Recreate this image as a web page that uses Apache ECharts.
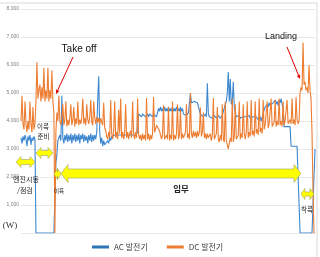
<!DOCTYPE html>
<html>
<head>
<meta charset="utf-8">
<script src="https://cdn.jsdelivr.net/npm/echarts/dist/echarts.min.js"></script>
<style>
  html, body { margin: 0; padding: 0; background: #fff; }
  #chart { width: 320px; height: 257px; }
</style>
</head>
<body>
<div id="chart"></div>
<script>
// 시간축은 한 칸 = 한 샘플, 구간별로 나눠서 적음
// AC 발전기 (W)
const acEngine = [3400,3200,3450,3300,3500,3350,3100,3450,3300,3500,3150,3400,3300,3450,3350];
const acPrep = [0,0,0,0,0,0,0,0,0,0,0,0,0,0,0,0,0,0,0];
const acTakeoff = [0,2500,2800,3300];
const acClimb = [3400,3500,3300,4900,3400,3200,3500,3300,3550,3250,
  3500,3300,3550,3200,3500,3300,3550,3250,3500,3300,
  3550,3200,3500,3350,3550,3250,3500,3300,3450,3200,
  3500,3300,3550,3250,3500,3300,3500,3350,3600,4800,
  5600,3600,3200,3400,3100,3300,3150];
const acMissionA = [3200,3100,3300,3200,3400,3300,3450,3500,
  3450,3500,3550,3450,3500,3550,3450,3500,3550,3450,3500,3550,3450,
  3500,3550,3450,3500,3550,3450,3500,3550,3450,3500,3550,3600,
  4250,4200,4250,4150,4250,4200,4250,4150,4200,4250,
  4150,4250,4200,4250,4150,4250,4200,4250,4150,4200];
const acMissionB = [4450,4350,4500,4350,4450,4350,4500,4350,4450,4350,
  4500,4350,4450,4350,4500,4350,4450,4350,4500,4350,4450,4350,4500,4350,4450,
  4250,4300,4250,4200,4250,4300,4250,
  5000,4650,4700,4650,4700,4650,4700,4650,4700,4600,
  4250,4200,4250,4150,4200,4250,4150,5350,4250,
  4150,4200,4150,4100,4150,4200,4150,4100,4150,4200,4150,4100,4150,4200,4150,4250,
  4600,4700,5000,5750,4700,5500,4600,4700,5400,4500,4300];
const acMissionC = [4150,4100,4150,4200,4100,4150,4100,4150,4200,4100,
  4150,4100,4150,4200,4100,4150,4100,4150,4200,4100,
  4150,4100,4050,4100,4150,4000,3950,4000,
  4400,4500,4450,4600,4500,4650,4550,4600,4500,4650,
  4600,4750,4600,4700,4550,4750,4650,4800,4600,4500,
  3800,3800,3750,3800,3800,3750,3800,
  3100,3100,3050,3100,3100,3050,3100,3100,3050];
const acLanding = [0,0,0,0,0,0,0,0,0,0,0,0,0,0,0,3000];

// DC 발전기 (W)
const dcEngine = [4000,4900,3900,3700,4700,3900,3600,4000,3700,4700,3900,3600,4500,3700,3900];
const dcPrep = [4700,6100,4800,5100,5300,4700,5200,4800,5900,4700,5100,4800,5900,4700,5100,4800,5800,4700,4300];
const dcTakeoff = [0,3600,4300,4000];
const dcClimb = [4900,4000,3850,4100,4600,3850,4050,4700,3800,4050,
  3850,4100,4600,3850,4050,4500,3800,4100,3900,4700,
  3850,4050,3900,4150,4800,3900,4100,3850,4600,4050,
  3900,4150,4750,3950,3850,4700,4100,3900,4150,3950,
  4100,3900,4100,3950,3850,4650,3750];
const dcMissionA = [3650,3450,3350,3600,3400,4750,3550,3350,3650,4700,
  3400,3600,3350,4400,3550,4800,3400,3600,3350,3550,
  4600,3400,3600,3350,3550,3650,3400,4700,3550,3350,
  3600,3400,4800,
  3550,3350,3500,3300,3550,3350,3500,3300,4820,3350,
  3550,3300,3500,3350,3550,4860,3600,3700,3850,3900];
const dcMissionB = [3800,3650,3500,3350,3500,4560,3350,3300,3500,3350,
  4500,3300,3500,3350,4700,3300,3500,3350,3550,4600,
  3350,3500,4400,3350,3550,
  3400,3350,3600,4600,3400,3550,3350,
  5000,3550,3400,3650,3450,3600,3400,3650,3450,3600,
  4480,3450,3600,4300,3400,3550,3350,3550,3400,
  3350,3550,3300,3500,4820,3350,3300,3550,4500,3350,3250,3500,3300,4600,3350,3250,
  4700,3300,3150,3000,3200,3400,3250,4800,3250,3450,4600];
const dcMissionC = [3350,3300,3500,4700,3350,3550,3400,4600,3550,3350,
  3600,4700,3400,3600,3450,4750,3500,3650,3450,4700,
  3550,3700,3500,4800,3600,3750,3550,4750,
  3700,3850,3800,4700,3750,3900,3850,4800,3800,3750,
  3950,4750,3800,4000,3850,4800,3850,4000,3800,4700,
  3850,4000,3950,4750,3900,3850,4050,
  3900,4800,3900,4050,3850,4850,4050,3900,4000];
const dcLanding = [5000,5200,5100,6800,5300,5400,5100,5200,5000,6000,5100,4800,3600,1500,0,0];

const yTicks = [0,1000,2000,3000,4000,5000,6000,7000,8000];

const acValues = [].concat(acEngine, acPrep, acTakeoff, acClimb, acMissionA, acMissionB, acMissionC, acLanding);
const dcValues = [].concat(dcEngine, dcPrep, dcTakeoff, dcClimb, dcMissionA, dcMissionB, dcMissionC, dcLanding);
const toPairs = arr => arr.map((v, i) => [i, v]);

const KR = '"Noto Sans CJK KR", "Noto Sans", sans-serif';

// 노란 양방향 화살표
function yellowArrow(x1, x2, cy, shaftH, headH, headL) {
  const s = shaftH / 2, h = headH / 2;
  return {
    type: 'polygon',
    shape: { points: [
      [x1, cy], [x1 + headL, cy - h], [x1 + headL, cy - s], [x2 - headL, cy - s],
      [x2 - headL, cy - h], [x2, cy], [x2 - headL, cy + h], [x2 - headL, cy + s],
      [x1 + headL, cy + s], [x1 + headL, cy + h]
    ] },
    style: { fill: '#ffff00', stroke: '#a3a36a', lineWidth: 0.6 },
    z: 10
  };
}

// 빨간 지시 화살표
function redArrow(x1, y1, x2, y2) {
  const a = Math.atan2(y2 - y1, x2 - x1), L = 4, W = 1.8;
  const bx = x2 - L * Math.cos(a), by = y2 - L * Math.sin(a);
  return [
    { type: 'line', shape: { x1, y1, x2: bx, y2: by }, style: { stroke: '#e00000', lineWidth: 1 }, z: 10 },
    { type: 'polygon', shape: { points: [[x2, y2],
      [bx + W * Math.sin(a), by - W * Math.cos(a)], [bx - W * Math.sin(a), by + W * Math.cos(a)]] },
      style: { fill: '#e00000' }, z: 10 }
  ];
}

function label(text, x, y, size, bold) {
  return {
    type: 'text', x, y, z: 11,
    style: { text, fontSize: size, fontFamily: KR, fill: '#222', align: 'center', verticalAlign: 'middle',
      fontWeight: bold ? 'bold' : 'normal' }
  };
}

const chart = echarts.init(document.getElementById('chart'), null, { renderer: 'canvas' });
chart.setOption({
  animation: false,
  backgroundColor: '#fff',
  grid: { left: 21, right: 5, top: 9, bottom: 24 },
  legend: {
    data: ['AC 발전기', 'DC 발전기'],
    left: 87, top: 238,
    icon: 'rect', itemWidth: 17, itemHeight: 3, itemGap: 19,
    textStyle: { fontSize: 8, color: '#404040', fontFamily: KR }
  },
  xAxis: {
    type: 'value', min: 0, max: acValues.length - 1,
    axisLine: { show: false }, axisTick: { show: false }, axisLabel: { show: false },
    splitLine: { show: false }
  },
  yAxis: {
    type: 'value', min: yTicks[0], max: yTicks[yTicks.length - 1], interval: 1000,
    axisLine: { show: false }, axisTick: { show: false },
    axisLabel: {
      fontSize: 5, color: '#7f7f7f', margin: 2, fontFamily: 'Liberation Sans',
      formatter: v => v === 0 ? '' : v.toLocaleString('en-US')
    },
    splitLine: { lineStyle: { color: '#e8e8e8', width: 1 } }
  },
  series: [
    { name: 'AC 발전기', type: 'line', data: toPairs(acValues), showSymbol: false,
      lineStyle: { width: 1.1, color: '#3d87cf' }, itemStyle: { color: '#2e75b6' } },
    { name: 'DC 발전기', type: 'line', data: toPairs(dcValues), showSymbol: false,
      lineStyle: { width: 1.1, color: '#ed7d31' }, itemStyle: { color: '#ed7d31' } }
  ],
  graphic: [
    { type: 'rect', shape: { x: -2, y: 3, width: 319, height: 260 },
      style: { fill: 'none', stroke: '#d9d9d9', lineWidth: 1 }, silent: true },
    yellowArrow(16, 35, 162, 5, 11, 5),
    yellowArrow(36, 53, 153, 5, 11, 5),
    yellowArrow(54, 61, 174, 4, 11, 3.5),
    yellowArrow(61, 301, 173.5, 9, 18, 7),
    yellowArrow(301, 314, 194, 4, 11, 4),
    label('엔진시동', 26, 179, 7),
    label('/점검', 25, 190, 7),
    label('이륙', 43, 127, 6.5),
    label('준비', 43.5, 137, 6.5),
    label('이륙', 59, 191, 5.5),
    label('임무', 181, 189, 8.5, true),
    label('착륙', 307, 210, 6.5),
    { type: 'text', x: 10, y: 226, z: 11,
      style: { text: '(W)', fontSize: 9, fontFamily: 'Liberation Serif', fill: '#333', align: 'center', verticalAlign: 'middle' } },
    { type: 'text', x: 79, y: 49, z: 11,
      style: { text: 'Take off', fontSize: 10, fontFamily: 'Liberation Sans', fill: '#111', align: 'center', verticalAlign: 'middle' } },
    { type: 'text', x: 281, y: 37, z: 11,
      style: { text: 'Landing', fontSize: 9, fontFamily: 'Liberation Sans', fill: '#111', align: 'center', verticalAlign: 'middle' } },
    ...redArrow(73, 57, 56, 94),
    ...redArrow(287, 47, 300, 79)
  ]
});
</script>
</body>
</html>
